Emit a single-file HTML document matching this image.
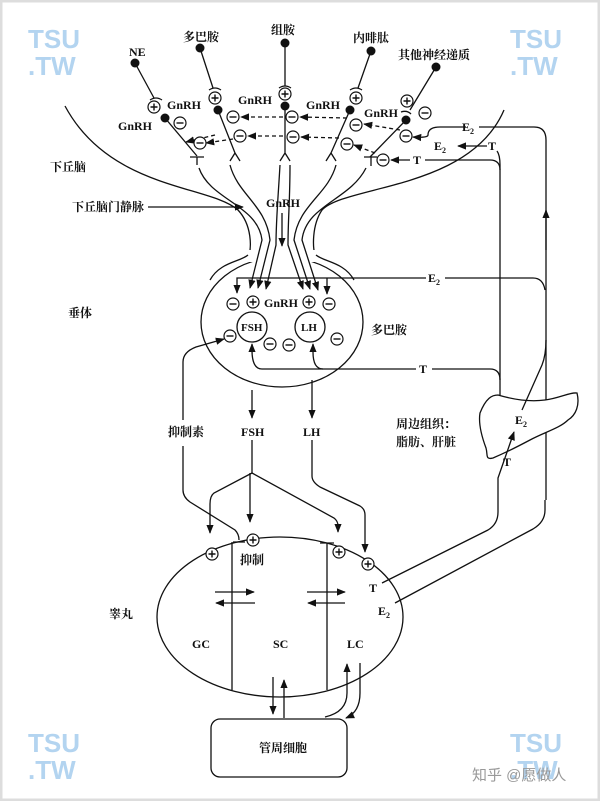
<!DOCTYPE html>
<html><head><meta charset="utf-8"><style>
html,body{margin:0;padding:0;background:#fff}
svg{display:block}
text{font-family:"Liberation Serif","Noto Serif CJK SC",serif;font-weight:bold;fill:#111}
.wm{font-family:"Liberation Sans",sans-serif;font-weight:bold;fill:#b3d4f0}
</style></head><body>
<svg width="600" height="801" viewBox="0 0 600 801" xmlns="http://www.w3.org/2000/svg">
<defs>
<marker id="a" viewBox="0 0 10 10" refX="9" refY="5" markerWidth="7" markerHeight="7" orient="auto"><path d="M0,1 L10,5 L0,9 z" fill="#111"/></marker>
<g id="p"><circle r="6" fill="#fff" stroke="#111" stroke-width="1.2"/><path d="M-3.5,0H3.5M0,-3.5V3.5" stroke="#111" stroke-width="1.4"/></g>
<g id="m"><circle r="6" fill="#fff" stroke="#111" stroke-width="1.2"/><path d="M-3.5,0H3.5" stroke="#111" stroke-width="1.4"/></g>
</defs>
<rect x="0" y="0" width="600" height="801" fill="#fff"/>
<rect x="1" y="1" width="598" height="799" fill="none" stroke="#ddd" stroke-width="3"/>
<!-- watermarks -->
<g font-size="26"><text x="28" y="48" class="wm">TSU</text><text x="28" y="75" class="wm">.TW</text>
<text x="510" y="48" class="wm">TSU</text><text x="510" y="75" class="wm">.TW</text>
<text x="28" y="752" class="wm">TSU</text><text x="28" y="779" class="wm">.TW</text>
<text x="510" y="752" class="wm">TSU</text><text x="510" y="779" class="wm">.TW</text></g>
<text x="472" y="780" font-size="15" style="fill:#999;font-weight:normal;font-family:'Liberation Sans','Noto Sans CJK SC',sans-serif">知乎 @愿做人</text>

<g fill="none" stroke="#111" stroke-width="1.3">
<path d="M65,106 C110,190 210,185 238,210 C252,225 252,248 248,258"/>
<path d="M504,110 C470,190 345,185 322,210 C312,225 312,248 316,258"/>
<ellipse cx="282" cy="322" rx="81" ry="65"/>
<rect x="246" y="250" width="72" height="12" fill="#fff" stroke="none"/>
<path d="M248,255 C240,262 220,262 210,280"/>
<path d="M316,255 C324,262 344,262 354,280"/>
<path d="M135,63 L154,98"/><path d="M150,100 q6,-4 12,0"/>
<path d="M200,48 L213,88"/><path d="M209,90 q6,-4 12,0"/>
<path d="M285,43 L285,86"/><path d="M279,88 q6,-4 12,0"/>
<path d="M371,51 L358,88"/><path d="M350,90 q6,-4 12,0"/>
<path d="M436,67 L410,110"/><path d="M401,112 q6,-2 10,2"/>
<path d="M165,118 L197,156"/><path d="M190,157 H204 M197,157 V165"/>
<path d="M218,110 L235,153 M235,153 l-5,8 M235,153 l5,8"/>
<path d="M285,106 L285,153 M285,153 l-5,8 M285,153 l5,8"/>
<path d="M350,110 L331,153 M331,153 l-5,8 M331,153 l5,8"/>
<path d="M406,120 L370,157"/><path d="M364,157 H377 M371,157 V166"/>
<path d="M199,168 C210,200 258,205 262,240 L250,288" marker-end="url(#a)"/>
<path d="M230,165 C238,195 266,205 270,240 L258,288" marker-end="url(#a)"/>
<path d="M280,165 C278,200 276,220 276,245 L266,289" marker-end="url(#a)"/>
<path d="M290,165 C290,200 288,220 288,245 L303,289" marker-end="url(#a)"/>
<path d="M336,165 C328,195 298,205 294,240 L310,289" marker-end="url(#a)"/>
<path d="M366,168 C350,200 306,205 302,240 L318,290" marker-end="url(#a)"/>
<g stroke-dasharray="4,3">
<path d="M215,135 L186,142" marker-end="url(#a)"/>
<path d="M283,117 L241,117" marker-end="url(#a)"/>
<path d="M347,118 L300,117" marker-end="url(#a)"/>
<path d="M400,130 L364,124" marker-end="url(#a)"/>
<path d="M233,139 L206,143" marker-end="url(#a)"/>
<path d="M283,136 L248,136" marker-end="url(#a)"/>
<path d="M339,138 L301,137" marker-end="url(#a)"/>
<path d="M375,153 L354,145" marker-end="url(#a)"/>
</g>
<path d="M479,127 H534 Q546,127 546,140 V500"/>
<path d="M466,127 H440 Q428,127 428,135 Q428,138 413,137" marker-end="url(#a)"/>
<path d="M487,146 H458" marker-end="url(#a)"/>
<path d="M497,151 Q500,155 500,165 V395"/>
<path d="M410,160 H391" marker-end="url(#a)"/>
<path d="M425,160 H490 Q500,160 500,170"/>
<path d="M546,250 V210" marker-end="url(#a)"/>
<path d="M148,207 H243" marker-end="url(#a)"/>
<path d="M282,213 V246" marker-end="url(#a)"/>
<path d="M426,278 H237 V293" marker-end="url(#a)"/>
<path d="M445,278 H533 Q543,278 545,290"/>
<path d="M327,278 V294" marker-end="url(#a)"/>
<circle cx="252" cy="327" r="15"/><circle cx="310" cy="327" r="15"/>
<path d="M416,369 H262 Q252,369 252,350 L252,344" marker-end="url(#a)"/>
<path d="M323,369 Q313,369 313,352 L313,344" marker-end="url(#a)"/>
<path d="M432,369 H490 Q500,369 500,380"/>
<path d="M183,420 V362 Q183,352 196,347 L224,339" marker-end="url(#a)"/>
<path d="M252,390 V418" marker-end="url(#a)"/>
<path d="M312,380 V418" marker-end="url(#a)"/>
<path d="M480,413 C486,398 492,395 498,395 C515,400 530,402 545,400 C560,398 570,392 577,393 C580,405 576,415 568,420 C560,428 545,432 530,440 C515,448 500,455 493,458 C485,460 488,455 486,448 C483,440 478,425 480,413 Z" fill="#fff"/>
<path d="M522,410 L542,365 Q546,355 546,340"/>
<path d="M498,490 V478 L514,432" marker-end="url(#a)"/>
<path d="M183,446 V490 Q183,497 190,502 L235,530 Q239,534 239,540 M233,542 H245"/>
<path d="M252,440 V473"/>
<path d="M252,473 L214,493 Q210,496 210,504 V533" marker-end="url(#a)"/>
<path d="M250,473 V522" marker-end="url(#a)"/>
<path d="M252,473 L334,518 Q338,521 338,526 V532" marker-end="url(#a)"/>
<path d="M312,440 V476 Q312,482 320,487 L360,506 Q365,509 365,515 V552" marker-end="url(#a)"/>
<ellipse cx="280" cy="617" rx="123" ry="80"/>
<path d="M232,542 V690 M327,543 V690 M320,543 H334"/>
<path d="M215,592 H254" marker-end="url(#a)"/>
<path d="M255,603 H216" marker-end="url(#a)"/>
<path d="M307,592 H345" marker-end="url(#a)"/>
<path d="M345,603 H308" marker-end="url(#a)"/>
<path d="M382,583 L488,530 Q498,524 498,512 V490"/>
<path d="M395,603 L533,529 Q545,522 545,510 V500"/>
<path d="M273,677 V714" marker-end="url(#a)"/>
<path d="M284,718 V680" marker-end="url(#a)"/>
<path d="M325,717 Q347,712 347,693 V664" marker-end="url(#a)"/>
<path d="M360,663 V693 Q360,712 346,718" marker-end="url(#a)"/>
<rect x="211" y="719" width="136" height="58" rx="9"/>
</g>
<g fill="#111"><circle cx="135" cy="63" r="4.5"/><circle cx="200" cy="48" r="4.5"/><circle cx="285" cy="43" r="4.5"/><circle cx="371" cy="51" r="4.5"/><circle cx="436" cy="67" r="4.5"/>
<circle cx="165" cy="118" r="4.5"/><circle cx="218" cy="110" r="4.5"/><circle cx="285" cy="106" r="4.5"/><circle cx="350" cy="110" r="4.5"/><circle cx="406" cy="120" r="4.5"/></g>
<use href="#p" x="154" y="107"/><use href="#p" x="215" y="98"/><use href="#p" x="285" y="94"/><use href="#p" x="356" y="98"/><use href="#p" x="407" y="101"/>
<use href="#m" x="425" y="113"/><use href="#m" x="180" y="123"/><use href="#m" x="233" y="117"/><use href="#m" x="292" y="117"/><use href="#m" x="356" y="125"/><use href="#m" x="406" y="136"/>
<use href="#m" x="200" y="143"/><use href="#m" x="240" y="136"/><use href="#m" x="293" y="137"/><use href="#m" x="347" y="144"/><use href="#m" x="383" y="160"/>
<use href="#m" x="233" y="304"/><use href="#p" x="253" y="302"/><use href="#p" x="309" y="302"/><use href="#m" x="329" y="304"/>
<use href="#m" x="230" y="336"/><use href="#m" x="270" y="344"/><use href="#m" x="289" y="345"/><use href="#m" x="337" y="339"/>
<use href="#p" x="212" y="554"/><use href="#p" x="253" y="540"/><use href="#p" x="339" y="552"/><use href="#p" x="368" y="564"/>
<g font-size="12">
<text x="129" y="56">NE</text>
<text x="183" y="41">多巴胺</text>
<text x="271" y="34">组胺</text>
<text x="353" y="42">内啡肽</text>
<text x="398" y="59">其他神经递质</text>
<text x="167" y="109">GnRH</text>
<text x="118" y="130">GnRH</text>
<text x="238" y="104">GnRH</text>
<text x="306" y="109">GnRH</text>
<text x="364" y="117">GnRH</text>
<text x="462" y="131">E<tspan font-size="8" dy="3">2</tspan></text>
<text x="434" y="150">E<tspan font-size="8" dy="3">2</tspan></text>
<text x="488" y="150">T</text>
<text x="413" y="164">T</text>
<text x="50" y="171">下丘脑</text>
<text x="72" y="211">下丘脑门静脉</text>
<text x="266" y="207">GnRH</text>
<text x="428" y="282">E<tspan font-size="8" dy="3">2</tspan></text>
<text x="264" y="307">GnRH</text>
<text x="241" y="331" font-size="11">FSH</text>
<text x="301" y="331" font-size="11">LH</text>
<text x="68" y="317">垂体</text>
<text x="371" y="334">多巴胺</text>
<text x="419" y="373">T</text>
<text x="168" y="436">抑制素</text>
<text x="241" y="436">FSH</text>
<text x="303" y="436">LH</text>
<text x="396" y="428">周边组织：</text>
<text x="396" y="446">脂肪、肝脏</text>
<text x="515" y="424">E<tspan font-size="8" dy="3">2</tspan></text>
<text x="503" y="466">T</text>
<text x="240" y="564">抑制</text>
<text x="369" y="592">T</text>
<text x="378" y="615">E<tspan font-size="8" dy="3">2</tspan></text>
<text x="109" y="618">睾丸</text>
<text x="192" y="648">GC</text>
<text x="273" y="648">SC</text>
<text x="347" y="648">LC</text>
<text x="259" y="752">管周细胞</text>
</g>
</svg>
</body></html>
